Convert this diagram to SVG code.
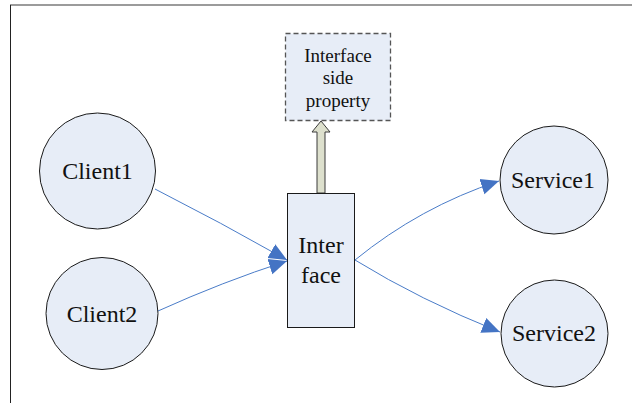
<svg xmlns="http://www.w3.org/2000/svg" width="632" height="403" viewBox="0 0 632 403">
<style>
.node{fill:#e7edf7;stroke:#1a1a1a;stroke-width:1}
.lbl{font-family:"Liberation Serif","Times New Roman",serif;font-size:24px;fill:#111;text-anchor:middle}
.sm{font-size:19px}
.conn{fill:none;stroke:#4a7cc8;stroke-width:1}
</style>
<defs>
<marker id="ah" markerUnits="userSpaceOnUse" markerWidth="20" markerHeight="18" refX="18" refY="9" orient="auto">
<path d="M0,1 L18,9 L0,17 Z" fill="#4474c4"/>
</marker>
</defs>
<rect width="632" height="403" fill="#fff"/>
<line x1="10" y1="5" x2="632" y2="5" stroke="#7a7a7a" stroke-width="1.5"/>
<line x1="10.5" y1="5" x2="10.5" y2="403" stroke="#222" stroke-width="1"/>
<g id="connectors">
<path class="conn" d="M155,189 Q220,222 287,260" marker-end="url(#ah)"/>
<path class="conn" d="M158,311 Q222,282 287,261" marker-end="url(#ah)"/>
<path class="conn" d="M355,260 Q420,207 499,181" marker-end="url(#ah)"/>
<path class="conn" d="M355,260 Q420,300 500,332" marker-end="url(#ah)"/>
<path d="M317,193 L317,132 L312,132 L321,121 L330,132 L325,132 L325,193 Z" fill="#dde0cd" stroke="#3a3a3a" stroke-width="1"/>
</g>
<g id="client1">
<circle class="node" cx="97.5" cy="171" r="58"/>
<text class="lbl" x="97.5" y="179">Client1</text>
</g>
<g id="client2">
<circle class="node" cx="102" cy="313.5" r="56"/>
<text class="lbl" x="102" y="322">Client2</text>
</g>
<g id="service1">
<circle class="node" cx="554" cy="180" r="54"/>
<text class="lbl" x="553" y="188">Service1</text>
</g>
<g id="service2">
<circle class="node" cx="554.5" cy="333.5" r="53.5"/>
<text class="lbl" x="554" y="341">Service2</text>
</g>
<g id="interface">
<rect class="node" x="287.5" y="193.5" width="67" height="134"/>
<text class="lbl" x="321" y="253">Inter</text>
<text class="lbl" x="321" y="283">face</text>
</g>
<g id="property">
<rect x="285.5" y="33.5" width="105" height="87" fill="#e7edf7" stroke="#555" stroke-width="1.3" stroke-dasharray="5,3"/>
<text class="lbl sm" x="338" y="62">Interface</text>
<text class="lbl sm" x="338" y="84">side</text>
<text class="lbl sm" x="338" y="107">property</text>
</g>
</svg>
